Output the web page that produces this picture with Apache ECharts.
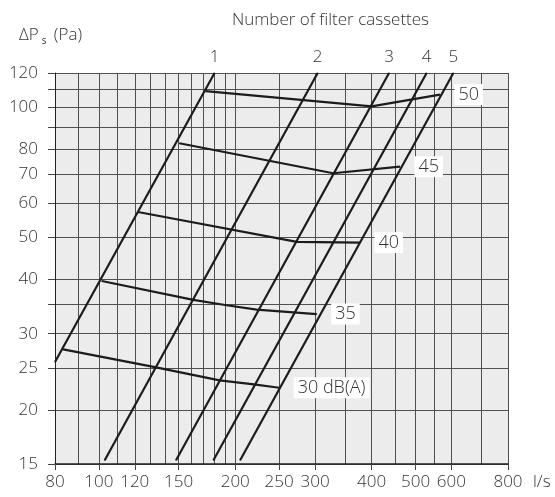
<!DOCTYPE html>
<html>
<head>
<meta charset="utf-8">
<script src="https://cdn.jsdelivr.net/npm/echarts@6/dist/echarts.min.js"></script>
<style>
  html, body { margin: 0; padding: 0; background: #ffffff; }
  #chart { width: 555px; height: 497px; }
</style>
</head>
<body>
<div id="chart"></div>
<script>
// ---- Data ----
const xGridValues = [80, 90, 100, 110, 120, 130, 140, 150, 160, 170, 180, 190, 200, 250, 300, 350, 400, 450, 500, 550, 600, 700, 800];
const xLabelValues = [80, 100, 120, 150, 200, 250, 300, 400, 500, 600, 800];
const yGridValues = [15, 20, 25, 30, 35, 40, 50, 60, 70, 80, 90, 100, 110, 120];
const yLabelValues = [15, 20, 25, 30, 40, 50, 60, 70, 80, 100, 120];

const cassetteNames = ['1', '2', '3', '4', '5'];
const cassette1 = [[80, 25.8], [180, 120]];
const cassette2 = [[103, 15.3], [304, 120]];
const cassette3 = [[148, 15.3], [437, 120]];
const cassette4 = [[179, 15.3], [529, 120]];
const cassette5 = [[205, 15.3], [606, 120]];

const noiseNames = ['50', '45', '40', '35', '30 dB(A)'];
const noise50 = [[172, 109], [400, 100.5], [566, 107]];
const noise45 = [[150.5, 82.6], [329, 70.4], [462, 72.9]];
const noise40 = [[122, 57.3], [273.5, 48.9], [377, 48.7]];
const noise35 = [[101.5, 39.7], [161.6, 35.9], [191.5, 34.9], [223, 34.1], [302.5, 33.3]];
const noise30 = [[83.4, 27.6], [132.9, 25.1], [184.7, 23.4], [219.9, 22.9], [250, 22.5]];

const cassetteData = [cassette1, cassette2, cassette3, cassette4, cassette5];
const noiseData = [noise50, noise45, noise40, noise35, noise30];

// ---- Styling ----
const FONT = '"Open Sans", "Noto Sans", sans-serif';
const TEXT = '#333333';
const LINE = '#1c1c1c';
const GRID = '#505050';

function withEndLabel(points, text, labelOpt) {
  return points.map((p, i) => {
    if (i !== points.length - 1) return { value: p };
    return { value: p, label: Object.assign({ show: true, formatter: text }, labelOpt) };
  });
}

const series = [];
cassetteData.forEach((pts, i) => {
  series.push({
    type: 'line',
    name: 'c' + cassetteNames[i],
    data: withEndLabel(pts, cassetteNames[i], {
      position: 'top', distance: 7, fontSize: 17, color: TEXT, fontFamily: FONT, fontWeight: 300
    }),
    symbol: 'circle', symbolSize: 1, showSymbol: true, showAllSymbol: true,
    itemStyle: { color: LINE },
    lineStyle: { color: LINE, width: 2.2 },
    label: { show: false },
    silent: true, animation: false, z: 3
  });
});
noiseData.forEach((pts, i) => {
  series.push({
    type: 'line',
    name: 'n' + noiseNames[i],
    data: withEndLabel(pts, noiseNames[i], {
      position: 'right', distance: 14, fontSize: 18, color: TEXT, fontFamily: FONT, fontWeight: 300,
      backgroundColor: '#ffffff', padding: [2, 4, 1, 4]
    }),
    symbol: 'circle', symbolSize: 1, showSymbol: true, showAllSymbol: true,
    itemStyle: { color: LINE },
    lineStyle: { color: LINE, width: 2.2 },
    label: { show: false },
    silent: true, animation: false, z: 4
  });
});

const chart = echarts.init(document.getElementById('chart'), null, { renderer: 'canvas' });
chart.setOption({
  animation: false,
  backgroundColor: '#ffffff',
  textStyle: { fontFamily: FONT },
  grid: {
    left: 55, right: 47, top: 73, bottom: 33,
    show: true, backgroundColor: '#ececec', borderWidth: 0
  },
  graphic: [
    {
      type: 'text', left: 232, top: 12,
      style: { text: 'Number of filter cassettes', fontSize: 17, fill: TEXT, fontFamily: FONT, fontWeight: 300 }
    },
    {
      type: 'text', left: 19, top: 27,
      style: {
        text: 'ΔP{s|s} (Pa)',
        fontSize: 17, fill: TEXT, fontFamily: FONT, fontWeight: 300,
        rich: { s: { fontSize: 10, fill: TEXT, fontFamily: FONT, padding: [12, 3, 0, 3] } }
      }
    }
  ],
  xAxis: [
    {
      type: 'log', min: 80, max: 800,
      axisLine: { show: true, lineStyle: { color: '#222', width: 1.5 } },
      axisTick: { show: false, customValues: xGridValues },
      splitLine: { show: true, lineStyle: { color: GRID, width: 1 } },
      axisLabel: { show: false },
      name: 'l/s', nameLocation: 'end', nameGap: 25,
      nameTextStyle: { fontSize: 17, color: TEXT, fontFamily: FONT, fontWeight: 300, verticalAlign: 'top', padding: [10, 0, 0, 0], align: 'left' }
    },
    {
      type: 'log', min: 80, max: 800, position: 'bottom',
      axisLine: { show: false },
      axisTick: { show: true, customValues: xLabelValues, length: 6, lineStyle: { color: '#444' } },
      splitLine: { show: false },
      axisLabel: { show: true, customValues: xLabelValues, fontSize: 17, color: TEXT, fontFamily: FONT, fontWeight: 300, margin: 10 }
    }
  ],
  yAxis: [
    {
      type: 'log', min: 15, max: 120,
      axisLine: { show: true, lineStyle: { color: '#222', width: 1 } },
      axisTick: { show: true, customValues: yGridValues, length: 7, lineStyle: { color: '#444' } },
      splitLine: { show: true, lineStyle: { color: GRID, width: 1 } },
      axisLabel: { show: true, customValues: yLabelValues, fontSize: 17, color: TEXT, fontFamily: FONT, fontWeight: 300, margin: 17 }
    }
  ],
  series: series
});
</script>
</body>
</html>
